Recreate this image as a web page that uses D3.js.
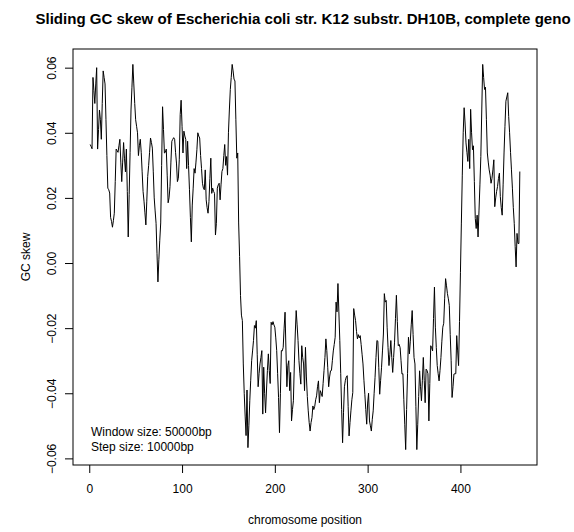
<!DOCTYPE html>
<html>
<head>
<meta charset="utf-8">
<script src="https://cdn.jsdelivr.net/npm/d3@7"></script>
<style>
  html, body { margin: 0; padding: 0; background: #fff; }
  svg { display: block; }
  text { font-family: "Liberation Sans", Arial, Helvetica, sans-serif; fill: #000; }
</style>
</head>
<body>
<svg id="chart" width="574" height="532"></svg>
<script>
// Sliding-window GC skew along the chromosome (window 50 kb, step 10 kb).
const titleText = "Sliding GC skew of Escherichia coli str. K12 substr. DH10B, complete geno";
const xLabel = "chromosome position";
const yLabel = "GC skew";
const legendLines = ["Window size: 50000bp", "Step size: 10000bp"];
const xTicks = [0, 100, 200, 300, 400];
const yTicks = [-0.06, -0.04, -0.02, 0.00, 0.02, 0.04, 0.06];

// GC skew of each window, windows numbered 1..464
const skew = [
  0.0364, 0.0358, 0.0351, 0.057, 0.053, 0.049, 0.055, 0.060, 0.035, 0.041,
  0.047, 0.044, 0.038, 0.049, 0.059, 0.057, 0.055, 0.044, 0.033, 0.023,
  0.0225, 0.0215, 0.014, 0.0128, 0.011, 0.013, 0.0153, 0.025, 0.035, 0.0345,
  0.034, 0.036, 0.038, 0.031, 0.025, 0.031, 0.037, 0.032, 0.028, 0.035,
  0.022, 0.008, 0.021, 0.034, 0.047, 0.054, 0.061, 0.055, 0.049, 0.044,
  0.042, 0.040, 0.033, 0.036, 0.038, 0.034, 0.028, 0.022, 0.019, 0.0154,
  0.0117, 0.019, 0.0266, 0.030, 0.034, 0.0384, 0.037, 0.0353, 0.028, 0.020,
  0.016, 0.0122, 0.003, -0.0058, 0.001, 0.007, 0.0123, 0.030, 0.048, 0.041,
  0.0338, 0.034, 0.035, 0.027, 0.0185, 0.020, 0.0235, 0.031, 0.0374, 0.038,
  0.0385, 0.038, 0.034, 0.0307, 0.025, 0.026, 0.0317, 0.0456, 0.050, 0.042,
  0.0338, 0.0405, 0.039, 0.038, 0.029, 0.0374, 0.030, 0.0225, 0.014, 0.0065,
  0.0178, 0.023, 0.029, 0.0276, 0.031, 0.0348, 0.040, 0.039, 0.0384, 0.033,
  0.029, 0.0245, 0.023, 0.0225, 0.0286, 0.0194, 0.017, 0.0153, 0.0189, 0.026,
  0.0322, 0.0214, 0.023, 0.022, 0.0214, 0.0086, 0.0122, 0.023, 0.024, 0.0245,
  0.0194, 0.024, 0.0281, 0.029, 0.033, 0.0364, 0.030, 0.0327, 0.027, 0.040,
  0.047, 0.0533, 0.057, 0.061, 0.059, 0.0565, 0.0559, 0.044, 0.0322, 0.0338,
  0.0123, 0.002, -0.010, -0.016, -0.0177, -0.031, -0.040, -0.047, -0.053, -0.039,
  -0.0567, -0.050, -0.0423, -0.036, -0.030, -0.027, -0.0238, -0.0192, -0.020, -0.0177,
  -0.028, -0.038, -0.034, -0.031, -0.029, -0.0269, -0.0464, -0.032, -0.040, -0.046,
  -0.039, -0.033, -0.0279, -0.033, -0.037, -0.0182, -0.019, -0.018, -0.019, -0.0197,
  -0.023, -0.0269, -0.034, -0.0413, -0.0521, -0.040, -0.0269, -0.027, -0.0259, -0.020,
  -0.0151, -0.027, -0.038, -0.0315, -0.030, -0.0392, -0.0336, -0.0485, -0.045, -0.0423,
  -0.031, -0.0218, -0.0146, -0.019, -0.0238, -0.030, -0.034, -0.0372, -0.0254, -0.029,
  -0.031, -0.0392, -0.0259, -0.035, -0.041, -0.0454, -0.049, -0.0516, -0.049, -0.0475,
  -0.0439, -0.045, -0.044, -0.042, -0.0408, -0.038, -0.0362, -0.0429, -0.0392, -0.040,
  -0.041, -0.037, -0.033, -0.029, -0.0233, -0.0269, -0.032, -0.038, -0.035, -0.0331,
  -0.033, -0.030, -0.027, -0.025, -0.0228, -0.012, -0.015, -0.0063, -0.015, -0.0238,
  -0.034, -0.045, -0.0552, -0.046, -0.038, -0.036, -0.035, -0.0346, -0.044, -0.0531,
  -0.049, -0.0454, -0.042, -0.0398, -0.014, -0.016, -0.0177, -0.021, -0.0233, -0.022,
  -0.023, -0.0223, -0.025, -0.028, -0.031, -0.036, -0.0403, -0.045, -0.0495, -0.043,
  -0.040, -0.0485, -0.050, -0.0516, -0.048, -0.0454, -0.040, -0.0351, -0.029, -0.0238,
  -0.024, -0.032, -0.0403, -0.036, -0.032, -0.027, -0.0218, -0.0094, -0.012, -0.0115,
  -0.0197, -0.026, -0.0315, -0.028, -0.0238, -0.029, -0.0336, -0.029, -0.0243, -0.017,
  -0.0099, -0.018, -0.0254, -0.025, -0.026, -0.030, -0.0341, -0.034, -0.042, -0.0495,
  -0.0573, -0.045, -0.034, -0.0228, -0.0279, -0.024, -0.019, -0.0146, -0.022, -0.029,
  -0.031, -0.044, -0.0573, -0.0495, -0.041, -0.0331, -0.038, -0.0423, -0.036, -0.029,
  -0.036, -0.0429, -0.0326, -0.033, -0.034, -0.0485, -0.037, -0.0254, -0.026, -0.027,
  -0.017, -0.0074, -0.0197, -0.026, -0.0315, -0.034, -0.0362, -0.033, -0.029, -0.024,
  -0.0197, -0.0185, -0.011, -0.0048, -0.007, -0.0094, -0.011, -0.013, -0.022, -0.030,
  -0.0413, -0.038, -0.0341, -0.034, -0.034, -0.0223, -0.027, -0.0315, -0.018, -0.003,
  0.012, 0.027, 0.040, 0.0477, 0.043, 0.0369, 0.034, 0.0312, 0.038, 0.029,
  0.0472, 0.040, 0.0348, 0.036, 0.025, 0.0137, 0.0106, 0.0147, 0.008, 0.016,
  0.024, 0.0327, 0.047, 0.061, 0.057, 0.0533, 0.054, 0.044, 0.0338, 0.031,
  0.0286, 0.027, 0.0245, 0.026, 0.0286, 0.0317, 0.0173, 0.020, 0.022, 0.0235,
  0.026, 0.0276, 0.0204, 0.017, 0.0147, 0.024, 0.0338, 0.042, 0.0497, 0.051,
  0.0523, 0.045, 0.040, 0.034, 0.0286, 0.023, 0.017, 0.0122, 0.005, -0.0012,
  0.0091, 0.006, 0.006, 0.0281
];
const positions = skew.map((_, i) => i + 1);

const plot = { left: 73, right: 537, top: 49, bottom: 465 };
const svg = d3.select("#chart");

// Axis ranges extended by 4% on each side
function padded(ext) {
  const r = ext[1] - ext[0];
  return [ext[0] - 0.04 * r, ext[1] + 0.04 * r];
}
const x = d3.scaleLinear().domain(padded(d3.extent(positions))).range([plot.left, plot.right]);
const y = d3.scaleLinear().domain(padded(d3.extent(skew))).range([plot.bottom, plot.top]);

const fmtY = v => d3.format(".2f")(v).replace("-", "\u2212");

// Data line
const line = d3.line().x((d, i) => x(positions[i])).y(d => y(d));
svg.append("path")
  .datum(skew)
  .attr("d", line)
  .attr("fill", "none")
  .attr("stroke", "#000")
  .attr("stroke-width", 1)
  .attr("stroke-linejoin", "round");

// Frame
svg.append("rect")
  .attr("x", plot.left).attr("y", plot.top)
  .attr("width", plot.right - plot.left).attr("height", plot.bottom - plot.top)
  .attr("fill", "none").attr("stroke", "#000").attr("stroke-width", 1);

// Bottom axis
const xAxis = svg.append("g")
  .attr("transform", `translate(0,${plot.bottom})`)
  .call(d3.axisBottom(x).tickValues(xTicks).tickSize(8).tickPadding(11).tickFormat(d3.format("d")));
xAxis.select(".domain").remove();
xAxis.selectAll("line").attr("stroke", "#000");
xAxis.selectAll("text").attr("font-size", 12).attr("font-family", "Liberation Sans, Arial, sans-serif").attr("fill", "#000");

// Left axis with rotated labels
const yAxis = svg.append("g")
  .attr("transform", `translate(${plot.left},0)`)
  .call(d3.axisLeft(y).tickValues(yTicks).tickSize(8).tickFormat(fmtY));
yAxis.select(".domain").remove();
yAxis.selectAll("line").attr("stroke", "#000");
yAxis.selectAll("text")
  .attr("font-size", 12).attr("font-family", "Liberation Sans, Arial, sans-serif").attr("fill", "#000")
  .attr("x", null).attr("dy", null)
  .attr("text-anchor", "middle")
  .attr("transform", "translate(-17,0) rotate(-90)");

// Title and axis titles
svg.append("text")
  .attr("x", 303).attr("y", 24)
  .attr("text-anchor", "middle")
  .attr("font-weight", "bold").attr("font-size", 15.05)
  .text(titleText);

svg.append("text")
  .attr("x", (plot.left + plot.right) / 2).attr("y", 524)
  .attr("text-anchor", "middle").attr("font-size", 12)
  .text(xLabel);

svg.append("text")
  .attr("transform", `translate(30,${(plot.top + plot.bottom) / 2}) rotate(-90)`)
  .attr("text-anchor", "middle").attr("font-size", 12)
  .text(yLabel);

// Window / step annotation
svg.append("g").selectAll("text")
  .data(legendLines)
  .join("text")
  .attr("x", 91)
  .attr("y", (d, i) => 436 + i * 15)
  .attr("font-size", 12)
  .text(d => d);
</script>
</body>
</html>
